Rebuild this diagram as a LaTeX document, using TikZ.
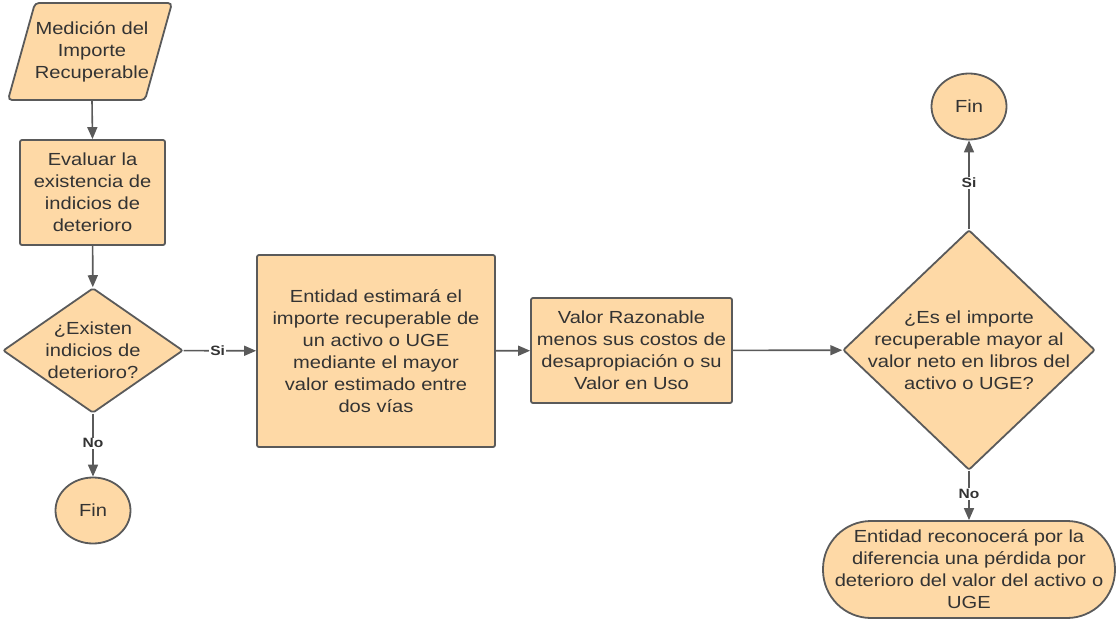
\documentclass[tikz,border=0pt]{standalone}
\usepackage{fontspec}
\setmainfont{Liberation Sans}[FakeStretch=1.15]
\usetikzlibrary{shapes.geometric,arrows.meta}
\definecolor{boxfill}{RGB}{254,217,166}
\definecolor{boxline}{RGB}{90,90,90}
\definecolor{txt}{RGB}{51,51,51}
\begin{document}
\begin{tikzpicture}[x=1pt,y=-1pt,
  base/.style={fill=boxfill,draw=boxline,line width=1.8pt,text=txt,align=center,
     font=\fontsize{17.5}{22}\selectfont,inner sep=0pt},
  procbox/.style={base,rectangle,rounded corners=2pt},
  decision/.style={base,diamond,rounded corners=2pt,inner xsep=-45pt,inner ysep=-30pt},
  endnode/.style={base,ellipse,minimum width=75pt,minimum height=66pt},
  conn/.style={draw=boxline,line width=1.6pt,-{Triangle[length=12pt,width=10pt]}},
  lbl/.style={fill=white,text=txt,font=\fontsize{13.5}{15}\selectfont\bfseries,inner sep=1pt}
]
\useasboundingbox (0,0) rectangle (1117,621);
% parallelogram (input)
\draw[fill=boxfill,draw=boxline,line width=1.8pt,rounded corners=4pt]
  (35,3) -- (172,3) -- (145,100) -- (8,100) -- cycle;
\node[align=center,text=txt,font=\fontsize{17.5}{22}\selectfont,minimum width=110pt,minimum height=97pt,inner sep=0pt]
  (inp) at (92,51.5) {Medición del\\Importe\\Recuperable};
\node[procbox,minimum width=145pt,minimum height=105pt] (eval) at (92.5,192.5)
  {Evaluar la\\existencia de\\indicios de\\deterioro};
\node[decision,inner xsep=-35pt,inner ysep=-25pt,minimum width=180pt,minimum height=125pt] (d1) at (93,350.5)
  {¿Existen\\indicios de\\deterioro?};
\node[endnode] (fin1) at (93,510.5) {Fin};
\node[procbox,minimum width=238pt,minimum height=192pt] (ent) at (376,351)
  {Entidad estimará el\\importe recuperable de\\un activo o UGE\\mediante el mayor\\valor estimado entre\\dos vías};
\node[procbox,minimum width=201pt,minimum height=105pt] (val) at (631.5,350.5)
  {Valor Razonable\\menos sus costos de\\desapropiación o su\\Valor en Uso};
\node[decision,minimum width=252pt,minimum height=240pt] (d2) at (969,350)
  {¿Es el importe\\recuperable mayor al\\valor neto en libros del\\activo o UGE?};
\node[endnode] (fin2) at (969,106.5) {Fin};
\node[procbox,minimum width=292pt,minimum height=97pt,rounded corners=48pt] (perd) at (969,569.5)
  {Entidad reconocerá por la\\diferencia una pérdida por\\deterioro del valor del activo o\\UGE};
% connectors
\draw[conn] (inp.south) -- (eval.north);
\draw[conn] (eval) -- (d1);
\draw[conn] (d1) -- node[lbl,pos=0.47]{No} (fin1);
\draw[conn] (d1) -- node[lbl,pos=0.47]{Si} (ent);
\draw[conn] (ent) -- (val);
\draw[conn] (val) -- (d2);
\draw[conn] (d2) -- node[lbl,pos=0.52]{Si} (fin2);
\draw[conn] (d2) -- node[lbl,pos=0.47]{No} (perd);
\end{tikzpicture}
\end{document}
